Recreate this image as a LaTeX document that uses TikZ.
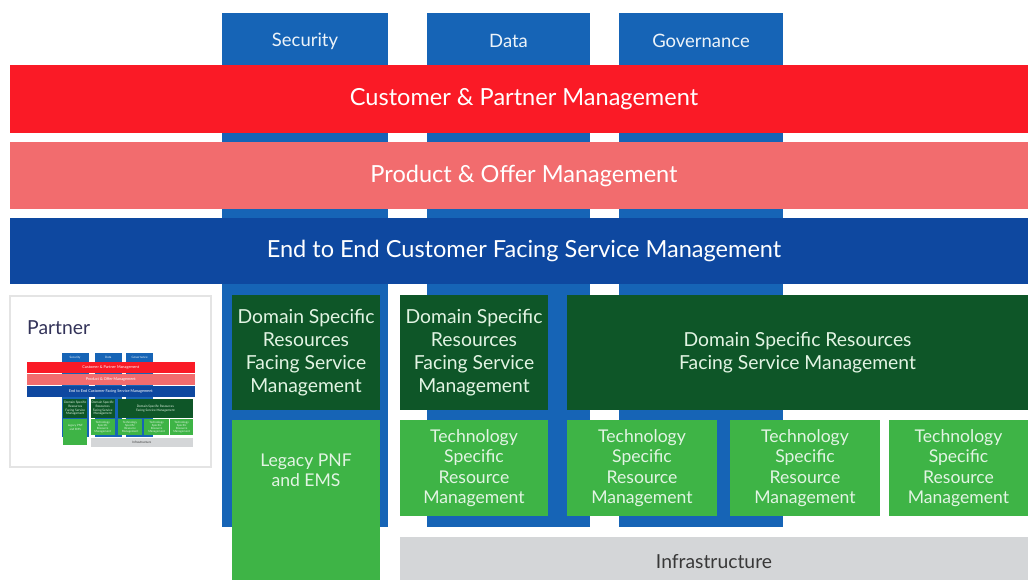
\documentclass[tikz,border=0pt]{standalone}
\usepackage{fontspec}
\setmainfont{Lato}
\usetikzlibrary{positioning}
\definecolor{pillarblue}{RGB}{22,100,182}
\definecolor{barred}{RGB}{250,26,38}
\definecolor{barpink}{RGB}{242,108,110}
\definecolor{barnavy}{RGB}{14,72,160}
\definecolor{domgreen}{RGB}{14,86,40}
\definecolor{techgreen}{RGB}{62,180,70}
\definecolor{infragray}{RGB}{212,214,216}
\definecolor{framegray}{RGB}{228,228,228}
\tikzset{
block/.style={rectangle, inner sep=0pt, align=center},
pillar/.style={block, fill=pillarblue, minimum height=102.8mm},
toplabel/.style={text=white!92!pillarblue, font=\fontsize{10.5}{12}\selectfont},
layerbar/.style={block, minimum width=205.6mm, text=white, font=\fontsize{13.4}{15}\selectfont},
rfsbox/.style={block, fill=domgreen, minimum height=23mm, text=white!85!techgreen, font=\fontsize{11}{13}\selectfont},
techbox/.style={block, fill=techgreen, text=white!85!techgreen, font=\fontsize{10}{11.6}\selectfont},
}
\newcommand{\layers}{
    \node[pillar, minimum width=33.2mm] (secCol) at (305,270) {};
    \node[pillar, minimum width=32.6mm] (dataCol) at (508.5,270) {};
    \node[pillar, minimum width=32.8mm] (govCol) at (701,270) {};
    \node[toplabel] (sec) at (305,41) {Security};
    \node[toplabel] (data) at (508.5,41) {Data};
    \node[toplabel] (gov) at (701,41) {Governance};
    \node[layerbar, fill=barred, minimum height=13.6mm] (cpm) at (524,99) {Customer \& Partner Management};
    \node[layerbar, fill=barpink, minimum height=13.4mm] (pom) at (524,175.5) {Product \& Offer Management};
    \node[layerbar, fill=barnavy, minimum height=13.2mm] (cfs) at (524,251) {End to End Customer Facing Service Management};
    \node[rfsbox, minimum width=29.6mm] (rfs1) at (306,352.5) {Domain Specific\\Resources\\Facing Service\\Management};
    \node[rfsbox, minimum width=29.6mm] (rfs2) at (474,352.5) {Domain Specific\\Resources\\Facing Service\\Management};
    \node[rfsbox, minimum width=92.2mm] (rfs3) at (797.5,352.5) {Domain Specific Resources\\Facing Service Management};
    \node[techbox, minimum width=29.6mm, minimum height=32mm] (legacy) at (306,500) {};
    \node[techbox, below=6.8mm of legacy.north, anchor=north] (legacyText) {Legacy PNF\\and EMS};
    \node[techbox, minimum width=29.6mm, minimum height=19.2mm] (trm1) at (474,468) {Technology\\Specific\\Resource\\Management};
    \node[techbox, minimum width=30mm, minimum height=19.2mm] (trm2) at (642,468) {Technology\\Specific\\Resource\\Management};
    \node[techbox, minimum width=30mm, minimum height=19.2mm] (trm3) at (805,468) {Technology\\Specific\\Resource\\Management};
    \node[techbox, minimum width=27.8mm, minimum height=19.2mm] (trm4) at (958.5,468) {Technology\\Specific\\Resource\\Management};
    \node[block, fill=infragray, minimum width=125.6mm, minimum height=10mm, text=black!78, font=\fontsize{11}{12}\selectfont] (infra) at (714,562) {Infrastructure};
}
\begin{document}
\begin{tikzpicture}[x=0.2mm, y=-0.2mm]
    \useasboundingbox[fill=white] (0,0) rectangle (1028,579);
    \layers
    \node[draw=framegray, line width=0.3mm, minimum width=40.2mm, minimum height=34.2mm, inner sep=0pt] (partner) at (110.5,381.5) {};
    \node[anchor=west, text=black!75!blue!60!gray, font=\fontsize{11}{13}\selectfont] (partnerLabel) at (21,328) {Partner};
    \begin{scope}[shift={(25.4,350.9)}, scale=0.163, every node/.append style={transform shape}, name prefix=thumb-]
        \layers
    \end{scope}
\end{tikzpicture}
\end{document}
